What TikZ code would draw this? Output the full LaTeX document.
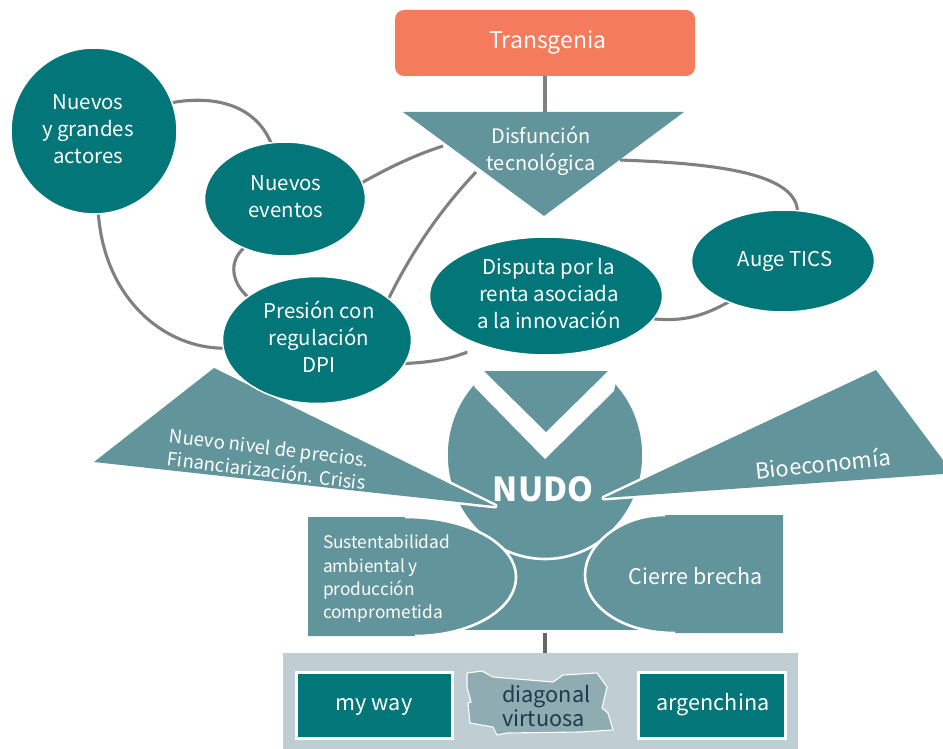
\documentclass[tikz,border=0pt]{standalone}
\usepackage{fontspec}
\setmainfont{Noto Sans CJK SC}
\usetikzlibrary{shapes.geometric}
\definecolor{tealdark}{HTML}{03767A}
\definecolor{tealmid}{HTML}{62949C}
\definecolor{orangebox}{HTML}{F47B5B}
\definecolor{panelgray}{HTML}{BFCED3}
\definecolor{mapfill}{HTML}{8FACB2}
\definecolor{linkgray}{HTML}{808080}
\definecolor{darktext}{HTML}{1F3A4A}
\pgfdeclarelayer{back}
\pgfsetlayers{back,main}
\newcommand\dn[3]{\hspace*{#1pt}\raisebox{-#2pt}{\begin{tabular}{@{}c@{}}#3\end{tabular}}\hspace*{-#1pt}}
\tikzset{
  x=1pt,y=-1pt,
  lab/.style={text=white,align=center,inner sep=0pt,outer sep=0pt,font=\fontsize{20}{27}\selectfont},
  oval/.style={ellipse,fill=tealdark,draw=white,line width=1.5pt,text=white,inner sep=0pt,outer sep=0pt,font=\fontsize{20.4}{27}\selectfont},
  link/.style={draw=linkgray,line width=3.1pt},
  halo/.style={draw=white,line width=5pt,line join=round},
  edgeline/.style={draw=white,line width=2.6pt},
  tealbox/.style={rectangle,fill=tealdark,draw=white,line width=3pt,text=white,inner sep=0pt,outer sep=0pt,font=\fontsize{21.6}{27}\selectfont}
}
\begin{document}
\begin{tikzpicture}
\useasboundingbox (0,0) rectangle (943,749);
% top
\node[rectangle,rounded corners=9pt,fill=orangebox,text=white,minimum width=300pt,minimum height=66pt,inner sep=0pt,outer sep=0pt,font=\fontsize{23}{28}\selectfont] (transgenia) at (545,43) {\dn{3}{1}{Transgenia}};
\coordinate (tl) at (403,112); \coordinate (tr) at (684,112); \coordinate (tb) at (544,216);
\fill[tealmid] (tl) -- (tr) -- (tb) -- cycle;
\coordinate (ttop) at (545,112);
\coordinate (tleftA) at (443,146);
\coordinate (tleftB) at (476,172);
\coordinate (tright) at (620,160);
\node[lab] (disfuncion) at (541,151) {Disfunción\\tecnológica};
% lower triangles and nudo
\fill[tealmid] (440,545) rectangle (670,630);
\node[ellipse,fill=tealmid,draw=white,line width=2.6pt,minimum width=197pt,minimum height=208pt,inner sep=0pt,outer sep=0pt] (nudoshape) at (545,455) {};
\fill[white] (465,340) -- (474.5,387) -- (545,459) -- (614,391) -- (625,340) -- cycle;
\fill[tealmid] (484,371) -- (608,371) -- (546,432) -- cycle;
\path[halo] (214,368) -- (495,506) -- (94,462) -- cycle;
\fill[tealmid] (214,368) -- (495,506) -- (94,462) -- cycle;
\path[halo] (876,370) -- (943,460) -- (943,474) -- (604,498) -- cycle;
\fill[tealmid] (876,370) -- (943,460) -- (943,474) -- (604,498) -- cycle;
\node[lab,rotate=-7,font=\fontsize{18.6}{23}\selectfont] (precios) at (268,459) {Nuevo nivel de precios.\\Financiarización. Crisis};
\node[lab,rotate=6,font=\fontsize{22}{25}\selectfont] (bio) at (823,463) {Bioeconomía};
\node[lab,font=\bfseries\fontsize{33}{40}\selectfont] (nudo) at (543,489) {NUDO};
% bottom shapes
\fill[tealmid] (308,517) -- (405,517) .. controls (470,517) and (516,545) .. (516,577) .. controls (516,610) and (470,636) .. (415,636) -- (308,636) -- cycle;
\draw[edgeline] (405,517) .. controls (470,517) and (516,545) .. (516,577) .. controls (516,610) and (470,636) .. (415,636);
\fill[tealmid] (783,515) -- (665,515) .. controls (620,515) and (585,545) .. (585,575) .. controls (585,605) and (620,633) .. (675,633) -- (783,633) -- cycle;
\draw[edgeline] (665,515) .. controls (620,515) and (585,545) .. (585,575) .. controls (585,605) and (620,633) .. (675,633);
\node[lab,anchor=west,align=left,font=\fontsize{17.3}{23.3}\selectfont] (susten) at (323,579) {Sustentabilidad\\ambiental y\\producción\\comprometida};
\node[lab,font=\fontsize{21.5}{27}\selectfont] (cierre) at (696,576) {Cierre brecha};
\coordinate (blockbottom) at (545,633);
% panel
\node[rectangle,fill=panelgray,minimum width=515pt,minimum height=96pt,inner sep=0pt,outer sep=0pt] (panel) at (540.5,701) {};
\node[tealbox,minimum width=156pt,minimum height=66pt] (myway) at (374,705) {\dn{0}{3}{my way}};
\node[tealbox,minimum width=147pt,minimum height=66pt] (argen) at (711.5,705) {\dn{1.5}{3}{argenchina}};
\path[fill=mapfill,draw=white,line width=1.1pt,line join=round] (467,673) -- (482,671) -- (493,677) -- (553,682) -- (563,675) -- (597,673) -- (607,687) -- (602,708) -- (608,713) -- (613,730) -- (580,732) -- (507,733) -- (497,735) -- (493,727) -- (470,723) -- (468,703) -- (471,702) -- (467,687) -- cycle;
\node[text=darktext,align=left,anchor=west,inner sep=0pt,font=\fontsize{21.7}{24}\selectfont] (diagonal) at (502,706) {diagonal\\virtuosa};
% ovals
\node[oval,minimum width=166pt,minimum height=166pt] (actores) at (94,131) {\dn{-6}{2}{Nuevos\\y grandes\\actores}};
\node[oval,minimum width=161pt,minimum height=114pt] (eventos) at (285,199) {\dn{1}{2}{Nuevos\\eventos}};
\node[oval,minimum width=189pt,minimum height=127pt] (presion) at (317,340) {\dn{2}{2}{Presión con\\regulación\\DPI}};
\node[oval,minimum width=233pt,minimum height=118pt] (disputa) at (546,296) {\dn{3}{2}{Disputa por la\\renta asociada\\a la innovación}};
\node[oval,minimum width=183pt,minimum height=102pt] (auge) at (783,261) {\dn{2}{2}{Auge TICS}};
% connectors
\begin{pgfonlayer}{back}
\draw[link] (transgenia.south) -- (ttop);
\draw[link] (actores.20) .. controls (215,95) and (255,105) .. (eventos.104);
\draw[link] (actores.-87) .. controls (105,300) and (165,348) .. (presion.185);
\draw[link] (eventos.-130) .. controls (228,262) and (232,283) .. (presion.148);
\draw[link] (eventos.12) .. controls (390,167) and (415,155) .. (tleftA);
\draw[link] (presion.30) .. controls (415,245) and (445,205) .. (tleftB);
\draw[link] (presion.-15) .. controls (435,362) and (460,358) .. (disputa.-143);
\draw[link] (disputa.-12) .. controls (685,322) and (705,315) .. (auge.-143);
\draw[link] (tright) .. controls (700,163) and (795,170) .. (auge.74);
\draw[link,draw=black!60] (blockbottom) -- (panel.north -| blockbottom);
\end{pgfonlayer}
\end{tikzpicture}
\end{document}
